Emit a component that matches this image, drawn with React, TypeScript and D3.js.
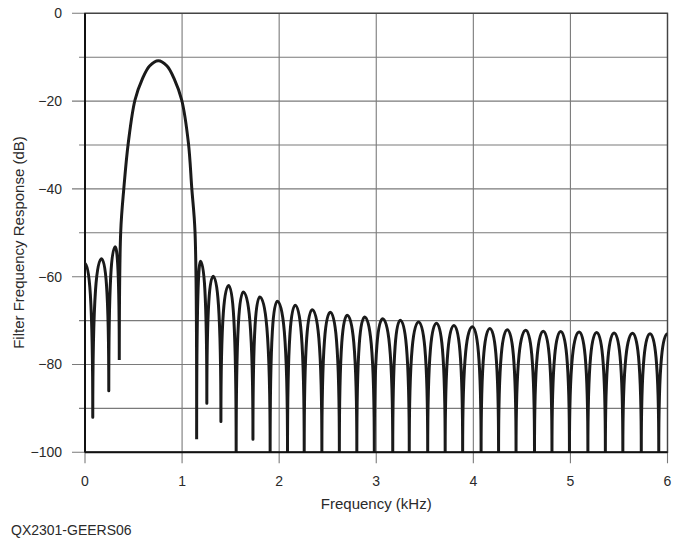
import * as d3 from "d3";
import { useEffect, useRef } from "react";

const W = 683;
const H = 540;
const margin = { top: 13.3, right: 15.5, bottom: 87.7, left: 85 };

const xTicks = [0, 1, 2, 3, 4, 5, 6];
const yTicks = [0, -20, -40, -60, -80, -100];
const yGrid = [0, -10, -20, -30, -40, -50, -60, -70, -80, -90, -100];

// stopband lobes below the passband
const leftPeakFreq = [0, 0.17, 0.31];
const leftPeakDb = [-57, -55.9, -53.2];
const leftNullFreq = [0.08, 0.245, 0.353];
const leftNullDb = [-92, -86, -79];

// passband (main lobe)
const mainFreq = [0.353, 0.368, 0.4, 0.446, 0.515, 0.59, 0.665, 0.755, 0.845, 0.92, 0.996, 1.065, 1.1, 1.133, 1.15];
const mainDb = [-79, -49.7, -39.9, -29.5, -19.75, -15, -12, -10.8, -12, -15, -19.75, -29.5, -39.9, -49.7, -97];

// stopband lobes above the passband
const rightNullFreq = [1.15, 1.255, 1.4, 1.557, 1.73, 1.907, 2.086, 2.258, 2.44, 2.62, 2.8, 2.98, 3.17, 3.34,
  3.53, 3.71, 3.89, 4.08, 4.26, 4.44, 4.63, 4.81, 4.99, 5.18, 5.36, 5.54, 5.73, 5.91];
const rightNullDb = [-97, -88.8, -93, -100, -97, -100, -100, -100, -100, -100, -100, -100, -100, -100,
  -100, -100, -100, -100, -100, -100, -100, -100, -100, -100, -100, -100, -100, -100];
const rightPeakFreq = [1.19, 1.32, 1.48, 1.63, 1.8, 1.98, 2.165, 2.34, 2.526, 2.7, 2.88, 3.065, 3.247, 3.436,
  3.62, 3.8, 3.99, 4.17, 4.35, 4.54, 4.72, 4.9, 5.09, 5.27, 5.45, 5.64, 5.82, 6.0];
const rightPeakDb = [-56.5, -59.9, -62, -63.5, -64.6, -65.6, -66.5, -67.5, -68.1, -68.8, -69.2, -69.6, -69.9, -70.3,
  -70.6, -71.1, -71.4, -71.8, -72.1, -72.2, -72.4, -72.5, -72.6, -72.7, -72.8, -72.9, -73, -73];

const FONT = "'Liberation Sans', Arial, Helvetica, sans-serif";
const TEXT = "#2a2a2a";
const GRID = "#7a7a7a";

type Pt = { f: number; db: number; peak: boolean };

const App = () => {
  const chartRef = useRef<SVGSVGElement>(null);

  useEffect(() => {
    const svg = d3.select(chartRef.current);
    svg.selectAll("*").remove();

    const x = d3.scaleLinear().domain([0, 6]).range([margin.left, W - margin.right]);
    const y = d3.scaleLinear().domain([-100, 0]).range([H - margin.bottom, margin.top]);
    const [x0, x1] = x.range();
    const [yb, yt] = y.range();

    // horizontal grid + left ticks
    svg.append("g")
      .selectAll("line")
      .data(yGrid)
      .enter()
      .append("line")
      .attr("x1", d => x0 - (yTicks.includes(d) ? 13 : 6))
      .attr("x2", x1)
      .attr("y1", d => y(d))
      .attr("y2", d => y(d))
      .attr("stroke", GRID)
      .attr("stroke-width", 1.1);

    // vertical grid + bottom ticks
    svg.append("g")
      .selectAll("line")
      .data(xTicks)
      .enter()
      .append("line")
      .attr("x1", d => x(d))
      .attr("x2", d => x(d))
      .attr("y1", yt)
      .attr("y2", yb + 11)
      .attr("stroke", GRID)
      .attr("stroke-width", 1.1);

    // frame
    svg.append("rect")
      .attr("x", x0).attr("y", yt)
      .attr("width", x1 - x0).attr("height", yb - yt)
      .attr("fill", "none")
      .attr("stroke", "#444")
      .attr("stroke-width", 1.4);
    svg.append("line")
      .attr("x1", x0).attr("x2", x0).attr("y1", yt).attr("y2", yb)
      .attr("stroke", "#111").attr("stroke-width", 2);

    // tick labels
    svg.append("g")
      .selectAll("text")
      .data(yTicks)
      .enter()
      .append("text")
      .attr("x", x0 - 23)
      .attr("y", d => y(d))
      .attr("dy", "0.35em")
      .attr("text-anchor", "end")
      .style("font", `14px ${FONT}`)
      .attr("fill", TEXT)
      .text(d => d3.format("d")(d));

    svg.append("g")
      .selectAll("text")
      .data(xTicks)
      .enter()
      .append("text")
      .attr("x", d => x(d))
      .attr("y", 486)
      .attr("text-anchor", "middle")
      .style("font", `14px ${FONT}`)
      .attr("fill", TEXT)
      .text(d => d);

    svg.append("text")
      .attr("x", (x0 + x1) / 2)
      .attr("y", 508.5)
      .attr("text-anchor", "middle")
      .style("font", `15px ${FONT}`)
      .attr("fill", TEXT)
      .text("Frequency (kHz)");

    svg.append("text")
      .attr("transform", `translate(24, 242.5) rotate(-90)`)
      .attr("text-anchor", "middle")
      .style("font", `15px ${FONT}`)
      .attr("fill", TEXT)
      .text("Filter Frequency Response (dB)");

    svg.append("text")
      .attr("x", 11)
      .attr("y", 535)
      .style("font", `14px ${FONT}`)
      .attr("fill", TEXT)
      .text("QX2301-GEERS06");

    // response curve
    const left: Pt[] = [];
    leftPeakFreq.forEach((f, i) => {
      left.push({ f, db: leftPeakDb[i], peak: true });
      left.push({ f: leftNullFreq[i], db: leftNullDb[i], peak: false });
    });
    const right: Pt[] = [];
    rightNullFreq.forEach((f, i) => {
      right.push({ f, db: rightNullDb[i], peak: false });
      right.push({ f: rightPeakFreq[i], db: rightPeakDb[i], peak: true });
    });

    const K1 = 0.8; // vertical pull at a null
    const KP = 0.5; // horizontal pull at a peak
    const lobes = (p: d3.Path, pts: Pt[]) => {
      p.moveTo(x(pts[0].f), y(pts[0].db));
      for (let i = 1; i < pts.length; i++) {
        const ax = x(pts[i - 1].f), ay = y(pts[i - 1].db);
        const bx = x(pts[i].f), by = y(pts[i].db);
        if (pts[i].peak) {
          p.bezierCurveTo(ax, ay + (by - ay) * K1, bx - (bx - ax) * KP, by, bx, by);
        } else {
          p.bezierCurveTo(ax + (bx - ax) * KP, ay, bx, by + (ay - by) * K1, bx, by);
        }
      }
    };

    const path = d3.path();
    lobes(path, left);
    d3.line<number>()
      .x((_, i) => x(mainFreq[i]))
      .y(d => y(d))
      .curve(d3.curveCatmullRom.alpha(0.5))
      .context(path)(mainDb);
    lobes(path, right);

    svg.append("clipPath")
      .attr("id", "plot-clip")
      .append("rect")
      .attr("x", x0).attr("y", yt)
      .attr("width", x1 - x0).attr("height", yb - yt);

    svg.append("path")
      .attr("d", path.toString())
      .attr("clip-path", "url(#plot-clip)")
      .attr("fill", "none")
      .attr("stroke", "#1a1a1a")
      .attr("stroke-width", 3)
      .attr("stroke-linejoin", "round");

    // bottom axis drawn over the clipped nulls
    svg.append("line")
      .attr("x1", x0).attr("x2", x1).attr("y1", yb).attr("y2", yb)
      .attr("stroke", "#111").attr("stroke-width", 2);
  }, []);

  return (
    <svg
      ref={chartRef}
      width={W}
      height={H}
      style={{ position: "absolute", left: 0, top: 0, background: "#fff" }}
    ></svg>
  );
};

export default App;
